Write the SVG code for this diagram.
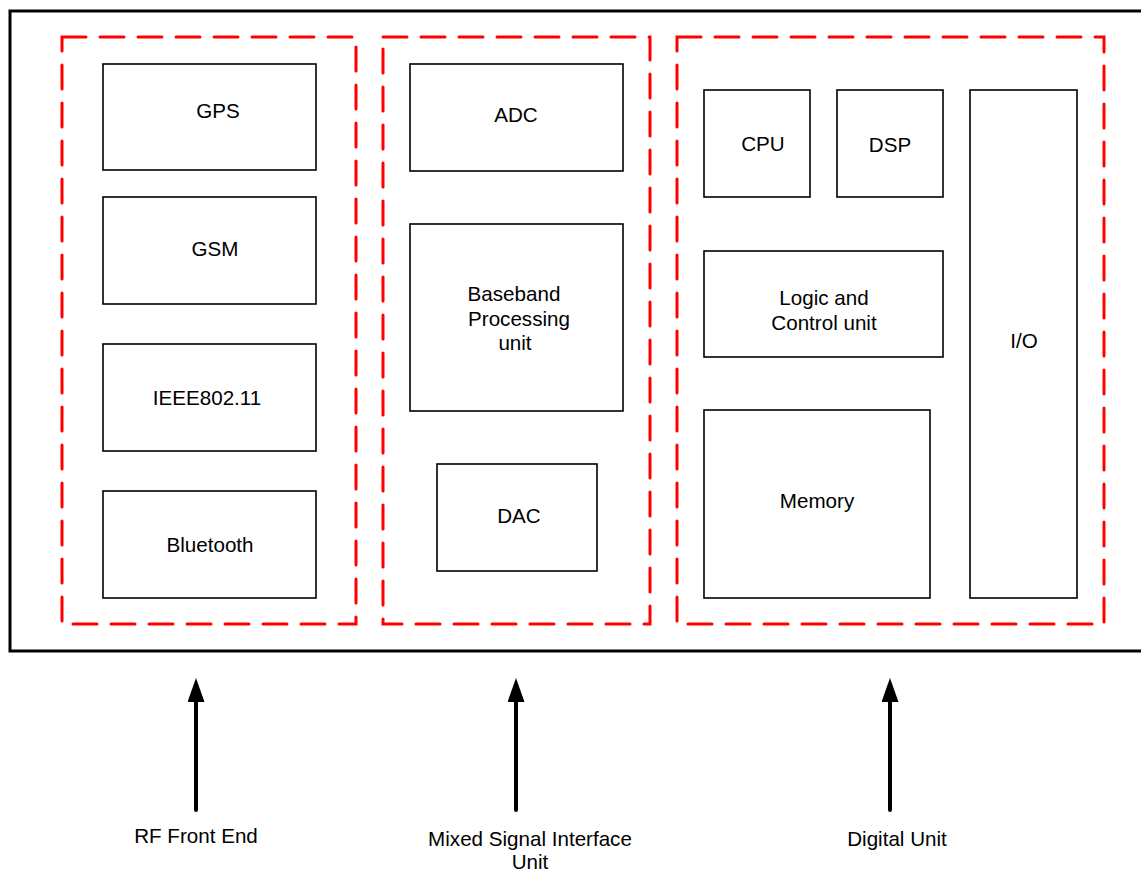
<svg xmlns="http://www.w3.org/2000/svg" width="1141" height="872" viewBox="0 0 1141 872">
<defs>
<style>
text{font-family:"Liberation Sans",Arial,sans-serif;font-size:20.6px;fill:#000;text-anchor:middle}
.box{fill:#fff;stroke:#000;stroke-width:1.6}
.grp{fill:none;stroke:#ff0000;stroke-width:3;stroke-dasharray:24 14;stroke-linecap:round}
.arr{stroke:#000;stroke-width:4;stroke-linecap:round;fill:none}
</style>
<marker id="ah" viewBox="0 0 24 17" refX="2" refY="8.5" markerWidth="6" markerHeight="4.25" markerUnits="strokeWidth" orient="auto">
<path d="M0,0 L24,8.5 L0,17 z" fill="#000"/>
</marker>
</defs>
<rect width="1141" height="872" fill="#fff"/>
<rect id="outer" x="10" y="11" width="1140" height="640" fill="none" stroke="#000" stroke-width="3"/>
<g id="group-rf"><rect class="grp" x="62" y="37" width="294" height="587"/></g>
<g id="group-mixed"><rect class="grp" x="383" y="37" width="267" height="587"/></g>
<g id="group-digital"><rect class="grp" x="677" y="37" width="427" height="587"/></g>
<g id="gps"><rect class="box" x="103" y="64" width="213" height="106"/><text x="218" y="118">GPS</text></g>
<g id="gsm"><rect class="box" x="103" y="197" width="213" height="107"/><text x="215" y="256">GSM</text></g>
<g id="ieee"><rect class="box" x="103" y="344" width="213" height="107"/><text x="207" y="405">IEEE802.11</text></g>
<g id="bluetooth"><rect class="box" x="103" y="491" width="213" height="107"/><text x="210" y="552">Bluetooth</text></g>
<g id="adc"><rect class="box" x="410" y="64" width="213" height="107"/><text x="516" y="122">ADC</text></g>
<g id="baseband"><rect class="box" x="410" y="224" width="213" height="187"/><text x="514" y="301">Baseband</text><text x="519" y="326">Processing</text><text x="515" y="350">unit</text></g>
<g id="dac"><rect class="box" x="437" y="464" width="160" height="107"/><text x="519" y="523">DAC</text></g>
<g id="cpu"><rect class="box" x="704" y="90" width="106" height="107"/><text x="763" y="151">CPU</text></g>
<g id="dsp"><rect class="box" x="837" y="90" width="106" height="107"/><text x="890" y="152">DSP</text></g>
<g id="io"><rect class="box" x="970" y="90" width="107" height="508"/><text x="1024" y="348">I/O</text></g>
<g id="logic"><rect class="box" x="704" y="251" width="239" height="106"/><text x="824" y="305">Logic and</text><text x="824" y="330">Control unit</text></g>
<g id="memory"><rect class="box" x="704" y="410" width="226" height="188"/><text x="817" y="508">Memory</text></g>
<g id="connectors">
<line class="arr" x1="196" y1="810" x2="196" y2="700" marker-end="url(#ah)"/>
<line class="arr" x1="516" y1="810" x2="516" y2="700" marker-end="url(#ah)"/>
<line class="arr" x1="890" y1="810" x2="890" y2="700" marker-end="url(#ah)"/>
</g>
<g id="labels">
<text x="196" y="843">RF Front End</text>
<text x="530" y="846">Mixed Signal Interface</text>
<text x="530" y="869">Unit</text>
<text x="897" y="846">Digital Unit</text>
</g>
</svg>
